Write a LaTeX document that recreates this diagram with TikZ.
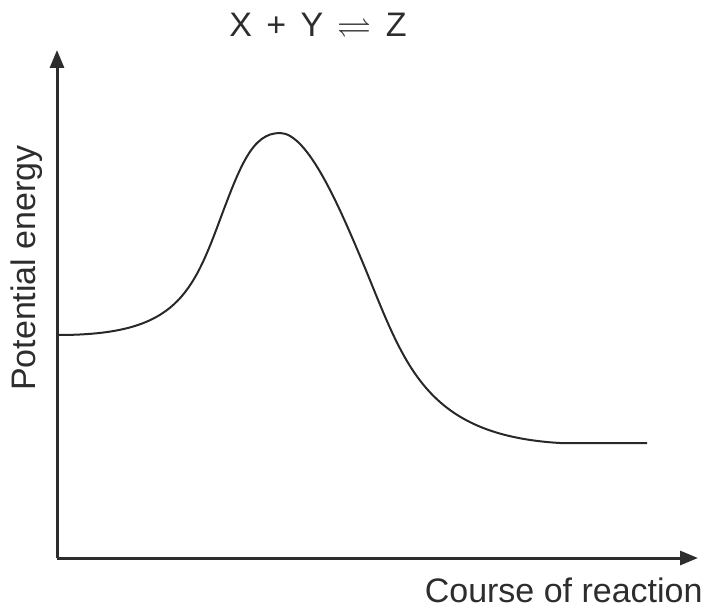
\documentclass[tikz,border=0pt]{standalone}
\usepackage{amsmath, amssymb}
\usepackage{fontspec}
\setmainfont{Liberation Sans}
\usepackage{tikz}
\usetikzlibrary{arrows.meta}
\definecolor{axisink}{RGB}{45, 45, 45}
\definecolor{curveink}{RGB}{40, 40, 40}
\tikzset{
	axisline/.style={draw=axisink, line width=1.5pt, -{Triangle[length=9pt, width=7pt]}},
	labeltext/.style={font=\fontsize{17}{20}\selectfont, text=axisink, inner sep=0pt}
}
\newcommand{\gapsp}{\hspace{0.42em}}

\begin{document}
\begin{tikzpicture}[x=0.5pt, y=-0.5pt]
		\useasboundingbox (0,0) rectangle (704,609);
		\coordinate (origin) at (57,558);
		\coordinate (ytip) at (57,50);
		\coordinate (xtip) at (698,558);
		\draw[axisline] (origin) -- (ytip);
		\draw[axisline] (origin) -- (xtip);
		
		\coordinate (start) at (58,335);
		\coordinate (peak) at (280,133);
		\coordinate (finish) at (647,443);
		\draw[curveink, line width=1pt] (start)
			.. controls (170,335) and (190,300) .. (218,225)
			.. controls (240,166) and (252,133) .. (peak)
			.. controls (308,133) and (340,208) .. (365,268)
			.. controls (405,365) and (425,435) .. (560,443)
			-- (finish);
		
		\node[labeltext] (title) at (318,25) {X\gapsp+\gapsp Y\gapsp$\rightleftharpoons$\gapsp Z};
		\node[labeltext, anchor=south east] (xlabel) at (703,603) {Course of reaction};
		\node[labeltext, rotate=90] (ylabel) at (27,268) {Potential energy};
	\end{tikzpicture}
\end{document}
